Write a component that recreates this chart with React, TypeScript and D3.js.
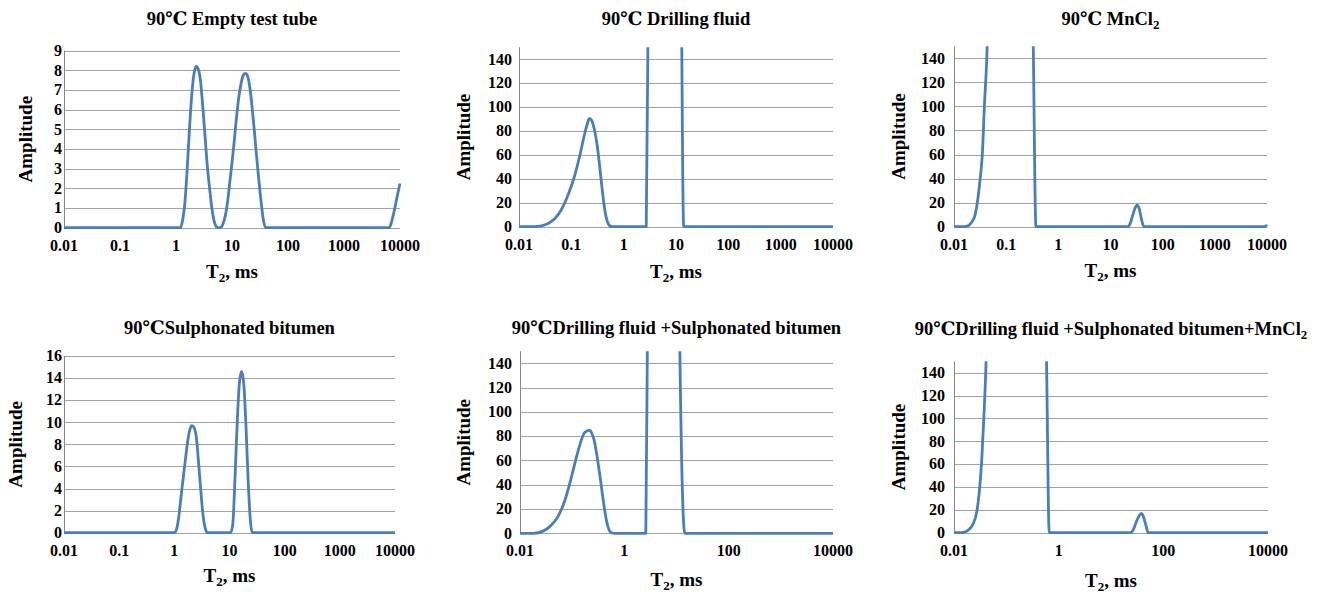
import React from 'react'
import * as d3 from 'd3'

const width = 1322
const height = 594
const lineColor = '#4a7ebb'
const gridColor = '#a3a3a3'
const axisColor = '#888888'
const font = '"Liberation Serif", "Times New Roman", "DejaVu Serif", serif'

// T2 spectra: [T2 (ms), amplitude]
const emptyTube: [number, number][] = [
  [0.01, 0], [1.096, 0], [1.202, 0], [1.318, 0.4], [1.445, 1.3], [1.585, 3.0], [1.738, 5.0],
  [1.905, 6.7], [2.089, 7.8], [2.291, 8.2], [2.512, 8.05], [2.754, 7.4], [3.02, 6.1], [3.311, 4.6],
  [3.631, 3.1], [3.981, 2.0], [4.365, 1.0], [4.786, 0.35], [5.248, 0.05], [5.623, 0], [6.31, 0],
  [6.918, 0.2], [7.586, 0.6], [8.318, 1.3], [9.12, 2.3], [10, 3.3], [10.96, 4.4], [12.02, 5.6],
  [13.18, 6.6], [14.45, 7.3], [15.85, 7.75], [17.38, 7.85], [19.05, 7.7], [20.89, 7.1], [22.91, 6.1],
  [25.12, 4.9], [27.54, 3.6], [30.2, 2.4], [33.11, 1.3], [36.31, 0.4], [39.81, 0], [6457, 0],
  [7079, 0.3], [7943, 0.9], [8913, 1.6], [10000, 2.25],
]
const drillingFluid: [number, number][] = [
  [0.01, 0], [0.0158, 0], [0.0251, 0.5], [0.0316, 1.6], [0.0398, 3.8], [0.0501, 7.5], [0.0631, 13.5],
  [0.0794, 22.5], [0.1, 34], [0.1148, 42], [0.1318, 52], [0.1514, 63], [0.1738, 75], [0.1905, 82],
  [0.2089, 88], [0.2188, 90.5], [0.2399, 89.5], [0.263, 85], [0.2884, 77], [0.3162, 66], [0.3467, 51],
  [0.3802, 35], [0.4169, 20], [0.4571, 9], [0.5012, 3], [0.5495, 0.6], [0.6026, 0], [2.7, 0],
  [2.95, 200], [3.5, 900], [8, 1100], [12.0, 400], [12.9, 150], [14.0, 0], [10000, 0],
]
const mncl2: [number, number][] = [
  [0.01, 0], [0.0158, 0], [0.0191, 1], [0.0219, 4], [0.0251, 9], [0.0272, 16.6], [0.0316, 39],
  [0.035, 61], [0.0382, 100], [0.0424, 139], [0.0447, 170], [0.07, 520], [0.15, 700], [0.26, 480],
  [0.331, 150], [0.372, 0], [21.4, 0], [24.0, 3], [26.9, 10], [30.2, 16.5], [32.4, 18], [35.5, 15],
  [38.9, 7], [43.7, 0], [8913, 0], [10000, 1.5],
]
const sulphonatedBitumen: [number, number][] = [
  [0.01, 0], [1.0, 0], [1.096, 0.3], [1.202, 1.4], [1.318, 3.2], [1.445, 4.9], [1.585, 6.6],
  [1.738, 8.2], [1.905, 9.3], [2.089, 9.7], [2.291, 9.5], [2.512, 8.6], [2.754, 6.3], [3.02, 3.8],
  [3.311, 1.6], [3.631, 0.4], [3.981, 0], [10.47, 0], [11.48, 0.8], [12.59, 5.0], [13.8, 10.0],
  [15.14, 13.6], [16.6, 14.6], [18.2, 13.4], [19.95, 9.5], [21.88, 4.5], [23.99, 1.0], [25.7, 0],
  [10000, 0],
]
const fluidBitumen: [number, number][] = [
  [0.01, 0], [0.0182, 0], [0.0282, 2], [0.0372, 5.5], [0.0537, 14], [0.0724, 27], [0.0977, 47],
  [0.132, 69], [0.174, 83], [0.2188, 85], [0.2399, 82], [0.263, 77], [0.2884, 68], [0.3162, 57],
  [0.3467, 45], [0.3802, 32], [0.4169, 20], [0.4571, 10], [0.5012, 3.5], [0.5495, 0.8], [0.6026, 0.1],
  [0.661, 0], [2.58, 0], [2.8, 200], [3.5, 900], [8, 1100], [11.0, 300], [11.6, 150], [14.4, 0],
  [10000, 0],
]
const fluidBitumenMn: [number, number][] = [
  [0.01, 0], [0.0126, 0], [0.0158, 0.5], [0.0186, 2.3], [0.0234, 8], [0.0269, 17], [0.0302, 34],
  [0.0339, 64], [0.0372, 101], [0.0407, 145], [0.0447, 220], [0.1, 650], [0.3, 600], [0.5, 300],
  [0.586, 150], [0.66, 0], [23.5, 0], [26.9, 3], [30.2, 9], [34.7, 15], [38.1, 17], [41.7, 14],
  [46.8, 6], [51.3, 0], [10000, 0],
]

const xTicksAll = [0.01, 0.1, 1, 10, 100, 1000, 10000]
const xTicksEven = [0.01, 1, 100, 10000]
const yTicks9 = [0, 1, 2, 3, 4, 5, 6, 7, 8, 9]
const yTicks16 = [0, 2, 4, 6, 8, 10, 12, 14, 16]
const yTicks140 = [0, 20, 40, 60, 80, 100, 120, 140]

const panels = [
  { title: ['90℃ Empty test tube'], data: emptyTube, yMax: 9, yTicks: yTicks9, xTicks: xTicksAll,
    left: 64, right: 400, top: 50.7, bottom: 227.7, titleY: 25, ylabX: 25, xlabY: 278, gap: 2 },
  { title: ['90℃ Drilling fluid'], data: drillingFluid, yMax: 150, yTicks: yTicks140, xTicks: xTicksAll,
    left: 519, right: 833, top: 47.3, bottom: 226.7, titleY: 25, ylabX: 463, xlabY: 278, gap: 7 },
  { title: ['90℃ MnCl', '2'], data: mncl2, yMax: 150, yTicks: yTicks140, xTicks: xTicksAll,
    left: 954, right: 1267, top: 46.3, bottom: 226.7, titleY: 25, ylabX: 898, xlabY: 277, gap: 9 },
  { title: ['90℃Sulphonated bitumen'], data: sulphonatedBitumen, yMax: 16, yTicks: yTicks16, xTicks: xTicksAll,
    left: 64, right: 395, top: 356, bottom: 532.7, titleY: 334, ylabX: 15, xlabY: 582, gap: 2 },
  { title: ['90℃Drilling fluid +Sulphonated bitumen'], data: fluidBitumen, yMax: 150, yTicks: yTicks140, xTicks: xTicksEven,
    left: 520, right: 833, top: 351.2, bottom: 533.3, titleY: 334, ylabX: 463, xlabY: 586, gap: 8 },
  { title: ['90℃Drilling fluid +Sulphonated bitumen+MnCl', '2'], data: fluidBitumenMn, yMax: 150, yTicks: yTicks140, xTicks: xTicksEven,
    left: 954, right: 1268, top: 361.3, bottom: 532.7, titleY: 335, ylabX: 898, xlabY: 587, gap: 9 },
]

function Panel({ p, idx }: { p: any; idx: number }) {
  const x = d3.scaleLog().domain([0.01, 10000]).range([p.left, p.right])
  const y = d3.scaleLinear().domain([0, p.yMax]).range([p.bottom, p.top])
  const line = d3.line<[number, number]>()
    .x(d => x(d[0]))
    .y(d => y(d[1]))
    .curve(d3.curveMonotoneX)
  const cx = (p.left + p.right) / 2
  const cy = (p.top + p.bottom) / 2
  const crisp = (v: number) => Math.round(v) + 0.5

  return (
    <g fontFamily={font} fontWeight="bold" fill="#000">
      <clipPath id={'clip' + idx}>
        <rect x={p.left - 3} y={p.top} width={p.right - p.left + 6} height={p.bottom - p.top + 4} />
      </clipPath>
      {p.yTicks.map((t: number) => (
        <line key={t} x1={p.left} x2={p.right} y1={crisp(y(t))} y2={crisp(y(t))} stroke={gridColor} strokeWidth={1} />
      ))}
      <line x1={crisp(p.left)} x2={crisp(p.left)} y1={p.top} y2={p.bottom} stroke={axisColor} strokeWidth={1} />
      <path d={line(p.data) || ''} fill="none" stroke={lineColor} strokeWidth={2.8}
        strokeLinejoin="round" clipPath={`url(#clip${idx})`} />
      {p.yTicks.map((t: number) => (
        <text key={t} x={p.left - p.gap} y={y(t)} dy="0.33em" textAnchor="end" fontSize={16}>{t}</text>
      ))}
      {p.xTicks.map((t: number) => (
        <text key={t} x={x(t)} y={p.bottom + 23} textAnchor="middle" fontSize={16}>{String(t)}</text>
      ))}
      <text x={cx} y={p.titleY} textAnchor="middle" fontSize={18.5}>
        {p.title[0]}
        {p.title[1] && <tspan fontSize={13} dy={4}>{p.title[1]}</tspan>}
      </text>
      <text x={cx} y={p.xlabY} textAnchor="middle" fontSize={19}>
        T<tspan fontSize={13} dy={4}>2</tspan><tspan dy={-4}>, ms</tspan>
      </text>
      <text transform={`translate(${p.ylabX},${cy}) rotate(-90)`} textAnchor="middle" dy="0.35em" fontSize={19}>
        Amplitude
      </text>
    </g>
  )
}

export default function App() {
  return (
    <svg width={width} height={height} style={{ position: 'absolute', left: 0, top: 0, background: '#fff' }}>
      {panels.map((p, i) => <Panel key={i} p={p} idx={i} />)}
    </svg>
  )
}
